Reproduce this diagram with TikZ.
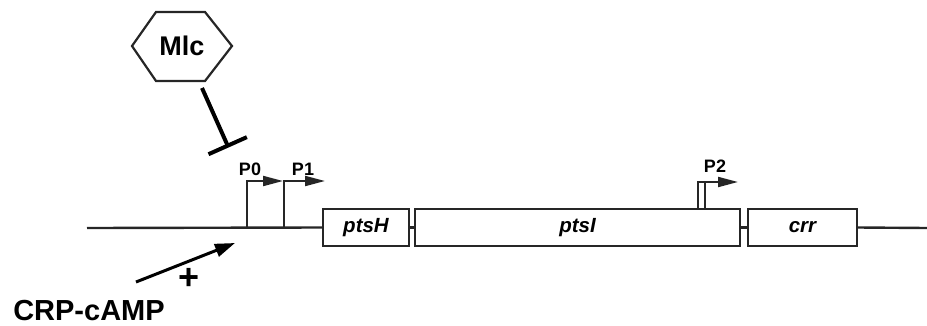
\documentclass[tikz,border=0pt]{standalone}
\usepackage{fontspec}
\setmainfont{Liberation Sans}
\usetikzlibrary{arrows.meta}

\begin{document}
\begin{tikzpicture}[x=1pt,y=-1pt,
  dna/.style={line width=2.4pt, draw=black!85},
  gene/.style={draw=black!85, line width=2.2pt, inner sep=0pt, minimum height=37pt,
               font=\fontsize{20.5}{20.5}\selectfont\bfseries\itshape},
  prom/.style={line width=2pt, draw=black!85,
               -{Triangle[length=20pt,width=10pt]}},
  plabel/.style={anchor=base, inner sep=0pt, font=\fontsize{18}{18}\selectfont\bfseries},
  biglabel/.style={inner sep=0pt, font=\fontsize{28}{28}\selectfont\bfseries}]
\useasboundingbox (0,0) rectangle (927,325);

% genes of the operon
\node[gene, minimum width=86pt]  (ptsH) at (366,227.5) {ptsH};
\node[gene, minimum width=325pt] (ptsI) at (577.5,227.5) {ptsI};
\node[gene, minimum width=109pt] (crr)  at (802.5,227.5) {crr};

% DNA backbone
\coordinate (left)  at (87,228);
\coordinate (right) at (927,228);
\draw[dna] (left) -- (ptsH.west);
\draw[dna] (ptsH.east) -- (ptsI.west);
\draw[dna] (ptsI.east) -- (crr.west);
\draw[dna] (crr.east) -- (right);

% promoters P0 and P1
\coordinate (p0base) at (247,228);
\coordinate (p0tip)  at (283,181);
\coordinate (p1base) at (284,228);
\coordinate (p1tip)  at (325,181);
\draw[prom] (p0base) |- (p0tip);
\draw[prom] (p1base) |- (p1tip);
\node[plabel] (P0) at (250,175) {P0};
\node[plabel] (P1) at (303,175) {P1};

% promoter P2 inside ptsI
\coordinate (p2a) at (698,208);
\coordinate (p2b) at (705,208);
\coordinate (p2tip) at (738,182);
\draw[line width=1.6pt, draw=black!85] (p2a) |- (705,182) -- (p2b);
\draw[prom] (705,182) -- (p2tip);
\node[plabel] (P2) at (715,172) {P2};

% Mlc repressor
\node[biglabel, font=\fontsize{27}{27}\selectfont\bfseries] (mlc) at (182,46) {Mlc};
\draw[line width=2.2pt, draw=black!85]
  ([shift={(-50,0)}]mlc.center) -- ([shift={(-26,-34)}]mlc.center)
  -- ([shift={(23,-34)}]mlc.center) -- ([shift={(50,0)}]mlc.center)
  -- ([shift={(23,35)}]mlc.center) -- ([shift={(-26,35)}]mlc.center) -- cycle;
\coordinate (mlcfoot) at (202,88);
\coordinate (block)   at (228.5,147.5);
\draw[line width=4pt, -{Bar[width=42pt,line width=4pt]}] (mlcfoot) -- (block);

% CRP-cAMP activation
\node[biglabel, anchor=base, font=\fontsize{29}{29}\selectfont\bfseries] (crp) at (89,320) {CRP-cAMP};
\coordinate (crpfoot) at (136,282);
\coordinate (crptip)  at (235,243);
\draw[line width=3pt, -{Triangle[length=20pt,width=13pt]}] (crpfoot) -- (crptip);
\node[inner sep=0pt, font=\fontsize{36}{36}\selectfont\bfseries] (plus) at (189,279) {+};
\end{tikzpicture}
\end{document}
